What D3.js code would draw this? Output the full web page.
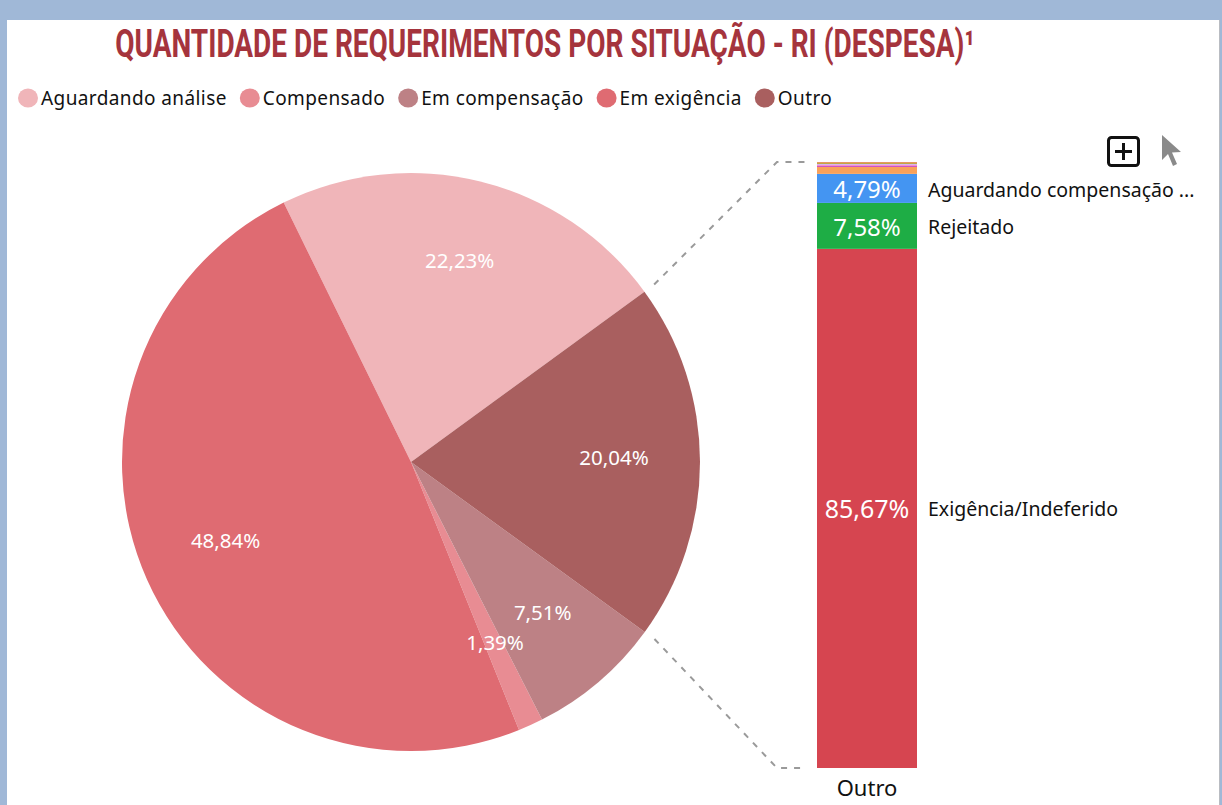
<!DOCTYPE html>
<html lang="pt-BR">
<head>
<meta charset="utf-8">
<title>Quantidade de requerimentos por situação - RI (Despesa)</title>
<script src="https://cdn.jsdelivr.net/npm/d3@7"></script>
<style>
  html, body { margin: 0; padding: 0; background: #a0b8d7; }
  svg { display: block; }
  text { font-family: "Noto Sans", "Open Sans", sans-serif; }
</style>
</head>
<body>
<svg id="chart" width="1222" height="805"></svg>
<script>
// Situação dos requerimentos (pizza principal)
const pieCategories = ["Aguardando análise", "Compensado", "Em compensação", "Em exigência", "Outro"];
const pieValues = [22.23, 1.39, 7.51, 48.84, 20.04];
const pieColors = ["#f0b5b9", "#e88c93", "#bd8185", "#df6b72", "#a95f5f"];

// Detalhamento da fatia "Outro" (barra empilhada, de baixo para cima)
const barCategory = "Outro";
const barSegments = ["Exigência/Indeferido", "Rejeitado", "Aguardando compensação de ofício",
  "Em análise", "Cancelado", "Retificado", "Suspenso", "Anulado", "Não informado"];
const barValues = [85.67, 7.58, 4.79, 1.14, 0.20, 0.17, 0.15, 0.20, 0.10];
const barColors = ["#d64550", "#1ead45", "#4495f2", "#f9a15a", "#cf4fc2", "#f27cc0", "#c9a7f0", "#b59b1a", "#e8703a"];

const titleText = "QUANTIDADE DE REQUERIMENTOS POR SITUAÇÃO - RI (DESPESA)¹";

const svg = d3.select("#chart");
const W = 1222, H = 805;

// Painel branco do visual
svg.append("rect").attr("x", 7).attr("y", 20).attr("width", 1212).attr("height", H - 20).attr("fill", "#ffffff");
svg.append("line").attr("x1", 1219.5).attr("x2", 1219.5).attr("y1", 20).attr("y2", H)
  .attr("stroke", "#b9bcc2").attr("stroke-width", 1);

// Título: fonte em negrito comprimida horizontalmente (aspecto condensado)
const titleW = 860;
const titleG = svg.append("g");
const title = titleG.append("text")
  .attr("x", 0).attr("y", 0)
  .attr("text-anchor", "middle")
  .style("font-family", "Roboto, 'Liberation Sans', sans-serif")
  .style("font-weight", "700")
  .style("font-size", "38px")
  .attr("fill", "#a5343d")
  .text(titleText);
{
  const natural = title.node().getComputedTextLength();
  const sx = titleW / natural;
  titleG.attr("transform", `translate(545,57) scale(${sx},1)`);
}

// Legenda
const legend = svg.append("g").attr("class", "legend");
let lx = 18;
pieCategories.forEach((c, i) => {
  const g = legend.append("g");
  g.append("ellipse").attr("cx", lx + 10).attr("cy", 98).attr("rx", 10).attr("ry", 9.5).attr("fill", pieColors[i]);
  const t = g.append("text").attr("x", lx + 23).attr("y", 104.5)
    .style("font-size", "19px").style("letter-spacing", "0.4px")
    .attr("fill", "#111111").text(c);
  lx += 23 + t.node().getComputedTextLength() + 13;
});

// Pizza
const cx = 411, cy = 462, R = 289;
const startAngle = 158.05 * Math.PI / 180;
const pie = d3.pie()
  .value(i => pieValues[i])
  .sort((a, b) => pieValues[b] - pieValues[a])
  .startAngle(startAngle)
  .endAngle(startAngle + 2 * Math.PI);
const arcs = pie(d3.range(pieValues.length));
const arc = d3.arc().innerRadius(0).outerRadius(R);
const labelArc = d3.arc().innerRadius(203).outerRadius(203);

const pg = svg.append("g").attr("transform", `translate(${cx},${cy})`);
pg.selectAll("path").data(arcs).join("path")
  .attr("d", arc)
  .attr("fill", d => pieColors[d.data]);

const fmt = v => v.toFixed(2).replace(".", ",") + "%";
pg.selectAll("text").data(arcs).join("text")
  .attr("transform", d => `translate(${labelArc.centroid(d)})`)
  .attr("text-anchor", "middle")
  .attr("dy", "0.15em")
  .style("font-size", "20.5px")
  .attr("fill", "#ffffff")
  .text(d => fmt(pieValues[d.data]));

// Barra empilhada do detalhamento
const barX = 817, barW = 100;
const y = d3.scaleLinear().domain([0, 100]).range([768, 162]);
const stack = d3.stack().keys(d3.range(barValues.length)).value((d, k) => barValues[k]);
const series = stack([{}]);

const bg = svg.append("g");
bg.selectAll("rect").data(series).join("rect")
  .attr("x", barX).attr("width", barW)
  .attr("y", s => y(s[0][1]))
  .attr("height", s => y(s[0][0]) - y(s[0][1]))
  .attr("fill", s => barColors[s.key]);

const big = series.filter(s => y(s[0][0]) - y(s[0][1]) > 20);
bg.selectAll("text.val").data(big).join("text")
  .attr("class", "val")
  .attr("x", barX + barW / 2)
  .attr("y", s => (y(s[0][0]) + y(s[0][1])) / 2 + 1)
  .attr("dy", "0.36em")
  .attr("text-anchor", "middle")
  .style("font-size", s => (barValues[s.key] > 50 ? "25px" : "24px"))
  .attr("fill", "#ffffff")
  .text(s => fmt(barValues[s.key]));

// Rótulos das categorias, cortados por palavra quando não cabem
const maxLabelW = 274;
bg.selectAll("text.cat").data(big).join("text")
  .attr("class", "cat")
  .attr("x", barX + barW + 11)
  .attr("y", s => (y(s[0][0]) + y(s[0][1])) / 2 + (s.key === 2 ? 2 : 1))
  .attr("dy", "0.36em")
  .style("font-size", "19.5px")
  .attr("fill", "#111111")
  .each(function (s) {
    const el = d3.select(this);
    const words = barSegments[s.key].split(" ");
    el.text(words.join(" "));
    if (this.getComputedTextLength() <= maxLabelW) return;
    let n = words.length - 1;
    while (n > 0) {
      el.text(words.slice(0, n).join(" ") + " ...");
      if (this.getComputedTextLength() <= maxLabelW) break;
      n--;
    }
  });

svg.append("text")
  .attr("x", barX + barW / 2).attr("y", 796)
  .attr("text-anchor", "middle")
  .style("font-size", "22px")
  .attr("fill", "#111111")
  .text(barCategory);

// Linhas tracejadas ligando a fatia "Outro" à barra
const outro = arcs.find(d => pieCategories[d.data] === "Outro");
const pt = (a, r) => [cx + r * Math.sin(a), cy - r * Math.cos(a)];
const p0 = pt(outro.startAngle, R + 12), p1 = pt(outro.endAngle, R + 12);
const lineY = [y(100), y(0)];
[[p0, lineY[0]], [p1, lineY[1]]].forEach(([p, ly]) => {
  svg.append("path")
    .attr("d", d3.line()([p, [barX - 40, ly], [barX - 10, ly]]))
    .attr("fill", "none")
    .attr("stroke", "#9a9a9a")
    .attr("stroke-width", 2)
    .attr("stroke-dasharray", "6,7");
});

// Ícones do cabeçalho do visual
const icons = svg.append("g");
icons.append("rect").attr("x", 1108.5).attr("y", 137.5).attr("width", 30).attr("height", 28).attr("rx", 3)
  .attr("fill", "none").attr("stroke", "#111").attr("stroke-width", 3);
icons.append("path").attr("d", "M1123.5,143 V160 M1115,151.5 H1132")
  .attr("stroke", "#111").attr("stroke-width", 3);
icons.append("path")
  .attr("d", "M1162,135 L1162,160 L1168,154 L1173,166 L1177,164 L1172,152.5 L1181,152 Z")
  .attr("fill", "#8a8a8a");
</script>
</body>
</html>
